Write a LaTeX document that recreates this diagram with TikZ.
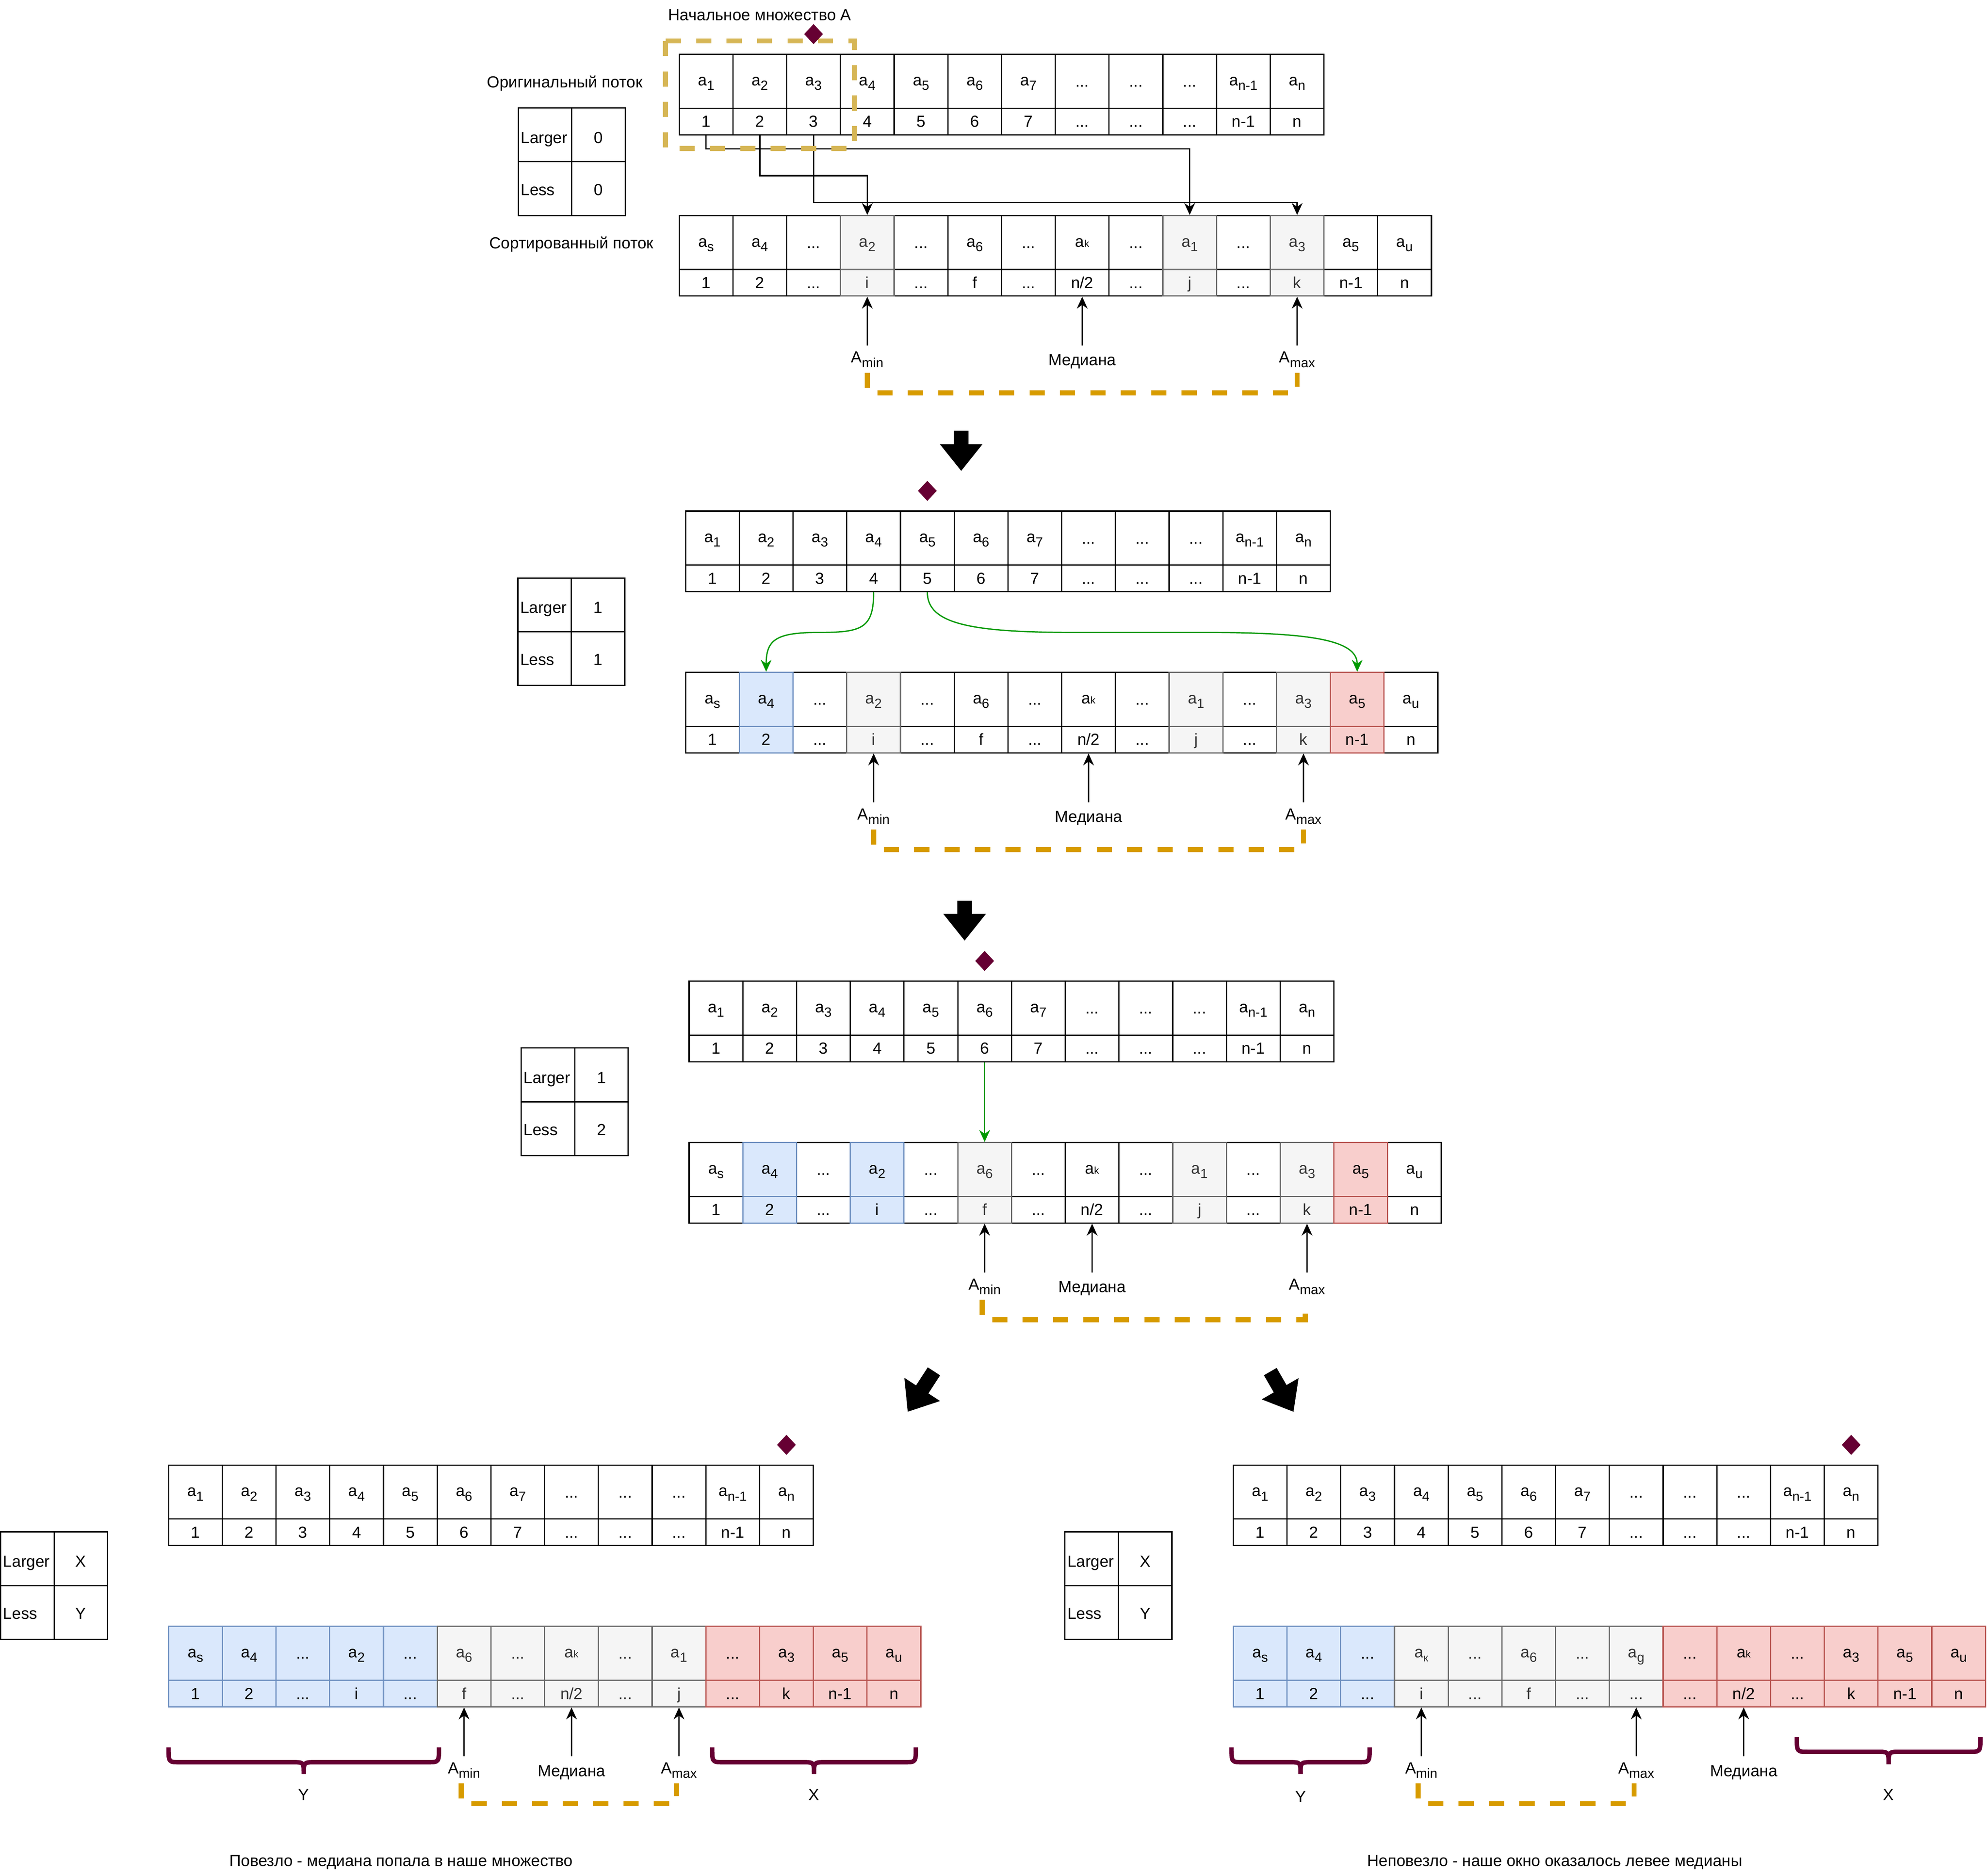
\documentclass[tikz,border=0pt]{standalone}
\usepackage{fontspec}
\setmainfont{Liberation Sans}
\usetikzlibrary{arrows.meta,shapes.geometric}
\definecolor{gF}{HTML}{F5F5F5}
\definecolor{gS}{HTML}{666666}
\definecolor{gT}{HTML}{333333}
\definecolor{bF}{HTML}{DAE8FC}
\definecolor{bS}{HTML}{6C8EBF}
\definecolor{rF}{HTML}{F8CECC}
\definecolor{rS}{HTML}{B85450}
\definecolor{gold}{HTML}{D6B656}
\definecolor{orng}{HTML}{D79B00}
\definecolor{maroon}{HTML}{660033}
\definecolor{grn}{HTML}{009900}
\newcommand{\fsz}{\fontsize{12.7}{15}\selectfont}
\newcommand{\sbx}[1]{\raisebox{-3.5pt}[0pt][0pt]{\fontsize{10.5}{10.5}\selectfont #1}}
\newcommand{\ai}[1]{a\sbx{#1}}
\newcommand{\akk}{a{\fontsize{7.8}{8}\selectfont k}}
\newcommand{\akap}{a\raisebox{-3pt}[0pt][0pt]{\fontsize{8.5}{8.5}\selectfont к}}
\newcommand{\dd}{\rule{0pt}{8.9pt}...}
\newcommand{\arrcol}[7]{%
\node[cellT,#5] (#1-t#2) at ({#3+(#2+0.5)*42.4},{#4+21.25}) {#6};
\node[cellB,#5] (#1-b#2) at ({#3+(#2+0.5)*42.4},{#4+53}) {#7};}
\newcommand{\toparr}[3]{%
\arrcol{#1}{0}{#2}{#3}{wh}{\ai1}{1}
\arrcol{#1}{1}{#2}{#3}{wh}{\ai2}{2}
\arrcol{#1}{2}{#2}{#3}{wh}{\ai3}{3}
\arrcol{#1}{3}{#2}{#3}{wh}{\ai4}{4}
\arrcol{#1}{4}{#2}{#3}{wh}{\ai5}{5}
\arrcol{#1}{5}{#2}{#3}{wh}{\ai6}{6}
\arrcol{#1}{6}{#2}{#3}{wh}{\ai7}{7}
\arrcol{#1}{7}{#2}{#3}{wh}{\dd}{...}
\arrcol{#1}{8}{#2}{#3}{wh}{\dd}{...}
\arrcol{#1}{9}{#2}{#3}{wh}{\dd}{...}
\arrcol{#1}{10}{#2}{#3}{wh}{\ai{n-1}}{n-1}
\arrcol{#1}{11}{#2}{#3}{wh}{\ai{n}}{n}}
\newcommand{\lltab}[5]{%
\node[tcL,text height=13pt] (#1-l1) at ({#2+21.1},{#3+21.2}) {Larger};
\node[tcV,text height=13pt] (#1-v1) at ({#2+63.3},{#3+21.2}) {#4};
\node[tcL,text height=10.4pt] (#1-l2) at ({#2+21.1},{#3+63.6}) {Less};
\node[tcV,text height=10.4pt] (#1-v2) at ({#2+63.3},{#3+63.6}) {#5};}
\newcommand{\crlb}[5]{%
\draw[brc] (#1,#3) .. controls (#1,#4) .. ({#1+9},#4) -- ({(#1+#2)/2-9},#4) .. controls ({(#1+#2)/2},#4) .. ({(#1+#2)/2},#5);
\draw[brc] (#2,#3) .. controls (#2,#4) .. ({#2-9},#4) -- ({(#1+#2)/2+9},#4) .. controls ({(#1+#2)/2},#4) .. ({(#1+#2)/2},#5);}
\newcommand{\blkarr}[4]{%
\fill[shift={(#1,#2)},rotate=#3] (-5.8,0) -- (5.8,0) -- (5.8,{#4-21}) -- (16.8,{#4-21}) -- (0,#4) -- (-16.8,{#4-21}) -- (-5.8,{#4-21}) -- cycle;}
\tikzset{
cellT/.style={draw, line width=1pt, minimum width=42.4pt, minimum height=42.5pt, inner sep=0pt, font=\fsz, text depth=0pt},
cellB/.style={draw, line width=1pt, minimum width=42.4pt, minimum height=21pt, inner sep=0pt, font=\fsz, text height=8.9pt, text depth=0pt},
wh/.style={fill=white, draw=black},
gr/.style={fill=gF, draw=gS, text=gT},
bl/.style={fill=bF, draw=bS},
rd/.style={fill=rF, draw=rS},
tcL/.style={draw, line width=1pt, minimum width=42.2pt, minimum height=42.4pt, text width=38.2pt, align=left, inner xsep=2pt, inner ysep=0pt, font=\fsz, text depth=0pt},
tcV/.style={draw, line width=1pt, minimum width=42.2pt, minimum height=42.4pt, inner sep=0pt, font=\fsz, text depth=0pt},
arr/.style={line width=1pt, -{Stealth[length=9.4pt,width=8.5pt,inset=3pt]}},
garr/.style={arr, color=grn},
brk/.style={draw=orng, line width=4pt, dash pattern=on 12pt off 12pt},
rectd/.style={draw=gold, line width=4pt, dash pattern=on 12pt off 12pt},
brc/.style={draw=maroon, line width=3.5pt},
lbl/.style={font=\fsz, anchor=base, inner sep=0pt},
dmd/.style={diamond, fill=maroon, minimum width=15pt, minimum height=16pt, inner sep=0pt}
}
\begin{document}
\begin{tikzpicture}[x=1pt,y=-1pt]
\path[use as bounding box, fill=white] (0,0) rectangle (1568,1480);

% ---------------- Section 1 ----------------
\node[lbl] (title) at (599.5,16) {Начальное множество A};
\node[lbl] (orig) at (445.7,69.3) {Оригинальный поток};
\node[lbl] (sort) at (451,196.3) {Сортированный поток};
\toparr{S1o}{536}{42.9}
\lltab{S1t}{409}{85.2}{0}{0}
\arrcol{S1s}{0}{536}{170.1}{wh}{\ai s}{1}
\arrcol{S1s}{1}{536}{170.1}{wh}{\ai4}{2}
\arrcol{S1s}{2}{536}{170.1}{wh}{\dd}{...}
\arrcol{S1s}{4}{536}{170.1}{wh}{\dd}{...}
\arrcol{S1s}{5}{536}{170.1}{wh}{\ai6}{f}
\arrcol{S1s}{6}{536}{170.1}{wh}{\dd}{...}
\arrcol{S1s}{7}{536}{170.1}{wh}{\akk}{n/2}
\arrcol{S1s}{8}{536}{170.1}{wh}{\dd}{...}
\arrcol{S1s}{10}{536}{170.1}{wh}{\dd}{...}
\arrcol{S1s}{12}{536}{170.1}{wh}{\ai5}{n-1}
\arrcol{S1s}{13}{536}{170.1}{wh}{\ai u}{n}
\arrcol{S1s}{3}{536}{170.1}{gr}{\ai2}{i}
\arrcol{S1s}{9}{536}{170.1}{gr}{\ai1}{j}
\arrcol{S1s}{11}{536}{170.1}{gr}{\ai3}{k}
\draw[arr] (S1o-b0.south) -- ++(0,10.5) -| (S1s-t9.north);
\draw[arr] (S1o-b1.south) -- ++(0,31.7) -| (S1s-t3.north);
\draw[arr] (S1o-b2.south) -- ++(0,52.9) -| (S1s-t11.north);
\coordinate (S1cA) at (684.4,272.6);
\coordinate (S1cM) at (854,272.6);
\coordinate (S1cX) at (1023.6,272.6);
\draw[arr] (S1cA) -- (S1s-b3.south);
\draw[arr] (S1cM) -- (S1s-b7.south);
\draw[arr] (S1cX) -- (S1s-b11.south);
\node[lbl] (S1lA) at (684.4,286.3) {A\sbx{min}};
\node[lbl] (S1lM) at (854,288.4) {Медиана};
\node[lbl] (S1lX) at (1023.6,286.3) {A\sbx{max}};
\draw[brk] (684.4,294) -- (684.4,310) -- (1023.6,310) -- (1023.6,294);
\draw[rectd] (525,32.3) rectangle (674.3,117.2);
\node[dmd] (D1) at (642,26.9) {};
\blkarr{758.5}{339.8}{0}{31.7}

% ---------------- Section 2 ----------------
\toparr{S2o}{541}{403.3}
\lltab{S2t}{408.6}{456}{1}{1}
\arrcol{S2s}{0}{541}{530.5}{wh}{\ai s}{1}
\arrcol{S2s}{2}{541}{530.5}{wh}{\dd}{...}
\arrcol{S2s}{4}{541}{530.5}{wh}{\dd}{...}
\arrcol{S2s}{5}{541}{530.5}{wh}{\ai6}{f}
\arrcol{S2s}{6}{541}{530.5}{wh}{\dd}{...}
\arrcol{S2s}{7}{541}{530.5}{wh}{\akk}{n/2}
\arrcol{S2s}{8}{541}{530.5}{wh}{\dd}{...}
\arrcol{S2s}{10}{541}{530.5}{wh}{\dd}{...}
\arrcol{S2s}{13}{541}{530.5}{wh}{\ai u}{n}
\arrcol{S2s}{3}{541}{530.5}{gr}{\ai2}{i}
\arrcol{S2s}{9}{541}{530.5}{gr}{\ai1}{j}
\arrcol{S2s}{11}{541}{530.5}{gr}{\ai3}{k}
\arrcol{S2s}{1}{541}{530.5}{bl}{\ai4}{2}
\arrcol{S2s}{12}{541}{530.5}{rd}{\ai5}{n-1}
\draw[garr] (S2o-b3.south) .. controls (689.4,496) and (680,499) .. (646,499) .. controls (612,499) and (604.6,505) .. (S2s-t1.north);
\draw[garr] (S2o-b4.south) .. controls (731.8,492) and (765,499) .. (848,499) -- (950,499) .. controls (1035,499) and (1071,505) .. (S2s-t12.north);
\coordinate (S2cA) at (689.4,633);
\coordinate (S2cM) at (859,633);
\coordinate (S2cX) at (1028.6,633);
\draw[arr] (S2cA) -- (S2s-b3.south);
\draw[arr] (S2cM) -- (S2s-b7.south);
\draw[arr] (S2cX) -- (S2s-b11.south);
\node[lbl] (S2lA) at (689.4,646.7) {A\sbx{min}};
\node[lbl] (S2lM) at (859,648.8) {Медиана};
\node[lbl] (S2lX) at (1028.6,646.7) {A\sbx{max}};
\draw[brk] (689.4,654.4) -- (689.4,670.4) -- (1028.6,670.4) -- (1028.6,654.4);
\node[dmd] (D2) at (731.8,387.3) {};
\blkarr{761.2}{710.7}{0}{31.4}

% ---------------- Section 3 ----------------
\toparr{S3o}{543.8}{774.2}
\lltab{S3t}{411.3}{826.9}{1}{2}
\arrcol{S3s}{0}{543.8}{901.5}{wh}{\ai s}{1}
\arrcol{S3s}{2}{543.8}{901.5}{wh}{\dd}{...}
\arrcol{S3s}{4}{543.8}{901.5}{wh}{\dd}{...}
\arrcol{S3s}{6}{543.8}{901.5}{wh}{\dd}{...}
\arrcol{S3s}{7}{543.8}{901.5}{wh}{\akk}{n/2}
\arrcol{S3s}{8}{543.8}{901.5}{wh}{\dd}{...}
\arrcol{S3s}{10}{543.8}{901.5}{wh}{\dd}{...}
\arrcol{S3s}{13}{543.8}{901.5}{wh}{\ai u}{n}
\arrcol{S3s}{5}{543.8}{901.5}{gr}{\ai6}{f}
\arrcol{S3s}{9}{543.8}{901.5}{gr}{\ai1}{j}
\arrcol{S3s}{11}{543.8}{901.5}{gr}{\ai3}{k}
\arrcol{S3s}{1}{543.8}{901.5}{bl}{\ai4}{2}
\arrcol{S3s}{3}{543.8}{901.5}{bl}{\ai2}{i}
\arrcol{S3s}{12}{543.8}{901.5}{rd}{\ai5}{n-1}
\draw[garr] (S3o-b5.south) -- (S3s-t5.north);
\coordinate (S3cA) at (777,1004);
\coordinate (S3cM) at (861.8,1004);
\coordinate (S3cX) at (1031.4,1004);
\draw[arr] (S3cA) -- (S3s-b5.south);
\draw[arr] (S3cM) -- (S3s-b7.south);
\draw[arr] (S3cX) -- (S3s-b11.south);
\node[lbl] (S3lA) at (777,1017.7) {A\sbx{min}};
\node[lbl] (S3lM) at (861.8,1019.8) {Медиана};
\node[lbl] (S3lX) at (1031.4,1017.7) {A\sbx{max}};
\draw[brk] (775,1025.4) -- (775,1041.4) -- (1030,1041.4) -- (1030,1025.4);
\node[dmd] (D3) at (777,758.2) {};
\blkarr{737}{1082}{-33}{38}
\blkarr{1002.4}{1082.2}{30}{36.6}

% ---------------- Section 4 left ----------------
\toparr{S4Lo}{133}{1156}
\lltab{S4Lt}{0.5}{1208.6}{X}{Y}
\arrcol{S4Ls}{0}{133}{1283.2}{bl}{\ai s}{1}
\arrcol{S4Ls}{1}{133}{1283.2}{bl}{\ai4}{2}
\arrcol{S4Ls}{2}{133}{1283.2}{bl}{\dd}{...}
\arrcol{S4Ls}{3}{133}{1283.2}{bl}{\ai2}{i}
\arrcol{S4Ls}{4}{133}{1283.2}{bl}{\dd}{...}
\arrcol{S4Ls}{5}{133}{1283.2}{gr}{\ai6}{f}
\arrcol{S4Ls}{6}{133}{1283.2}{gr}{\dd}{...}
\arrcol{S4Ls}{7}{133}{1283.2}{gr}{\akk}{n/2}
\arrcol{S4Ls}{8}{133}{1283.2}{gr}{\dd}{...}
\arrcol{S4Ls}{9}{133}{1283.2}{gr}{\ai1}{j}
\arrcol{S4Ls}{10}{133}{1283.2}{rd}{\dd}{...}
\arrcol{S4Ls}{11}{133}{1283.2}{rd}{\ai3}{k}
\arrcol{S4Ls}{12}{133}{1283.2}{rd}{\ai5}{n-1}
\arrcol{S4Ls}{13}{133}{1283.2}{rd}{\ai u}{n}
\coordinate (S4LcA) at (366.2,1385.7);
\coordinate (S4LcM) at (451,1385.7);
\coordinate (S4LcX) at (535.8,1385.7);
\draw[arr] (S4LcA) -- (S4Ls-b5.south);
\draw[arr] (S4LcM) -- (S4Ls-b7.south);
\draw[arr] (S4LcX) -- (S4Ls-b9.south);
\node[lbl] (S4LlA) at (366.2,1399.4) {A\sbx{min}};
\node[lbl] (S4LlM) at (451,1401.5) {Медиана};
\node[lbl] (S4LlX) at (535.8,1399.4) {A\sbx{max}};
\draw[brk] (364,1407.1) -- (364,1423.1) -- (534,1423.1) -- (534,1407.1);
\crlb{133}{346.4}{1378.7}{1390.4}{1399.7}
\crlb{562}{722.7}{1378.7}{1390.4}{1399.7}
\node[lbl] (S4Ly) at (239.7,1420.3) {Y};
\node[lbl] (S4Lx) at (642.4,1420.3) {X};
\node[lbl] (capL) at (316.6,1472.5) {Повезло - медиана попала в наше множество};
\node[dmd] (D4L) at (620.6,1140) {};

% ---------------- Section 4 right ----------------
\toparr{S4Ro}{973.2}{1156}
\lltab{S4Rt}{840.4}{1208.6}{X}{Y}
\arrcol{S4Rs}{0}{973.2}{1283.2}{bl}{\ai s}{1}
\arrcol{S4Rs}{1}{973.2}{1283.2}{bl}{\ai4}{2}
\arrcol{S4Rs}{2}{973.2}{1283.2}{bl}{\dd}{...}
\arrcol{S4Rs}{3}{973.2}{1283.2}{gr}{\akap}{i}
\arrcol{S4Rs}{4}{973.2}{1283.2}{gr}{\dd}{...}
\arrcol{S4Rs}{5}{973.2}{1283.2}{gr}{\ai6}{f}
\arrcol{S4Rs}{6}{973.2}{1283.2}{gr}{\dd}{...}
\arrcol{S4Rs}{7}{973.2}{1283.2}{gr}{\ai g}{...}
\arrcol{S4Rs}{8}{973.2}{1283.2}{rd}{\dd}{...}
\arrcol{S4Rs}{9}{973.2}{1283.2}{rd}{\akk}{n/2}
\arrcol{S4Rs}{10}{973.2}{1283.2}{rd}{\dd}{...}
\arrcol{S4Rs}{11}{973.2}{1283.2}{rd}{\ai3}{k}
\arrcol{S4Rs}{12}{973.2}{1283.2}{rd}{\ai5}{n-1}
\arrcol{S4Rs}{13}{973.2}{1283.2}{rd}{\ai u}{n}
\coordinate (S4RcA) at (1121.6,1385.7);
\coordinate (S4RcX) at (1291.2,1385.7);
\coordinate (S4RcM) at (1376,1385.7);
\draw[arr] (S4RcA) -- (S4Rs-b3.south);
\draw[arr] (S4RcX) -- (S4Rs-b7.south);
\draw[arr] (S4RcM) -- (S4Rs-b9.south);
\node[lbl] (S4RlA) at (1121.6,1399.4) {A\sbx{min}};
\node[lbl] (S4RlX) at (1291.2,1399.4) {A\sbx{max}};
\node[lbl] (S4RlM) at (1376,1401.5) {Медиана};
\draw[brk] (1119,1407.1) -- (1119,1423.1) -- (1289.5,1423.1) -- (1289.5,1407.1);
\crlb{971.8}{1080.8}{1378.7}{1390.4}{1399.7}
\crlb{1417.9}{1562.8}{1370.5}{1382.2}{1392}
\node[lbl] (S4Ry) at (1026.3,1422) {Y};
\node[lbl] (S4Rx) at (1490.3,1420.3) {X};
\node[lbl] (capR) at (1226.9,1472.5) {Неповезло - наше окно оказалось левее медианы};
\node[dmd] (D4R) at (1460.8,1140) {};
\end{tikzpicture}
\end{document}
